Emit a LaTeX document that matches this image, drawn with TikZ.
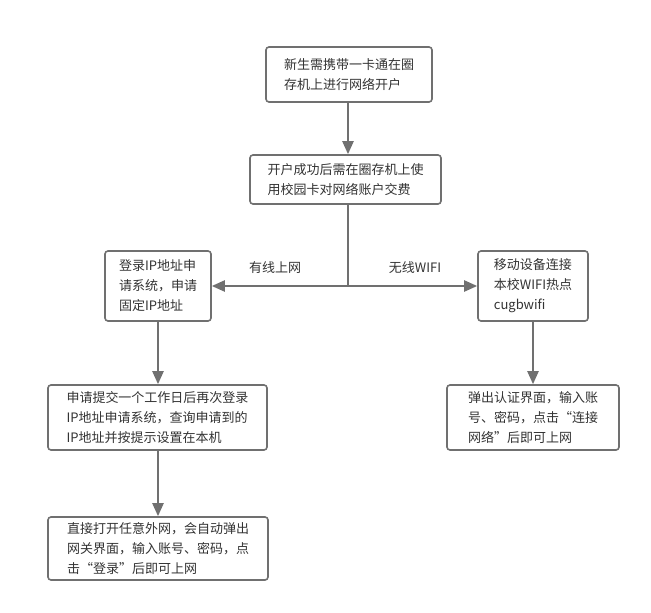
\documentclass[tikz,border=0pt]{standalone}
\usepackage{fontspec}
\setmainfont{Noto Sans CJK SC}
\usetikzlibrary{arrows.meta}
\begin{document}
\begin{tikzpicture}[x=1pt,y=-1pt,
  box/.style={draw=black!56,line width=1.6pt,rounded corners=3pt,align=left,inner sep=0pt,
    font=\fontsize{13}{20}\selectfont,text=black!80},
  conn/.style={draw=black!56,line width=2.2pt,-{Triangle[length=13pt,width=11pt]}},
  plain/.style={draw=black!56,line width=2.2pt},
  lbl/.style={font=\fontsize{13}{16}\selectfont,text=black!80}]
\useasboundingbox[fill=white] (0,0) rectangle (651,613);
\node[box,minimum width=166pt,minimum height=55pt] (b1) at (349,74.5) {新生需携带一卡通在圈\\存机上进行网络开户};
\node[box,minimum width=191pt,minimum height=49pt] (b2) at (345.5,179.5) {开户成功后需在圈存机上使\\用校园卡对网络账户交费};
\node[box,minimum width=106pt,minimum height=70pt] (b3) at (158,286) {登录IP地址申\\请系统，申请\\固定IP地址};
\node[box,minimum width=110pt,minimum height=70pt] (b4) at (533,286) {移动设备连接\\本校WIFI热点\\cugbwifi};
\node[box,minimum width=219pt,minimum height=65pt] (b5) at (157.5,417.5) {申请提交一个工作日后再次登录\\IP地址申请系统，查询申请到的\\IP地址并按提示设置在本机};
\node[box,minimum width=220pt,minimum height=63pt] (b6) at (158,548.5) {直接打开任意外网，会自动弹出\\网关界面，输入账号、密码，点\\击“登录”后即可上网};
\node[box,minimum width=172pt,minimum height=65pt] (b7) at (533,417.5) {弹出认证界面，输入账\\号、密码，点击“连接\\网络”后即可上网};
\coordinate (j) at (348,286);
\node[lbl] (l1) at (275,268) {有线上网};
\node[lbl] (l2) at (415,268) {无线WIFI};
\draw[conn] (b1.south -| j) -- (b2.north -| j);
\draw[plain] (b2.south -| j) -- (j);
\draw[conn] (j) -- (b3.east);
\draw[conn] (j) -- (b4.west);
\draw[conn] (b3.south) -- (b5.north -| b3.south);
\draw[conn] (b4.south) -- (b7.north -| b4.south);
\draw[conn] (b5.south -| b3.south) -- (b6.north -| b3.south);
\end{tikzpicture}
\end{document}
